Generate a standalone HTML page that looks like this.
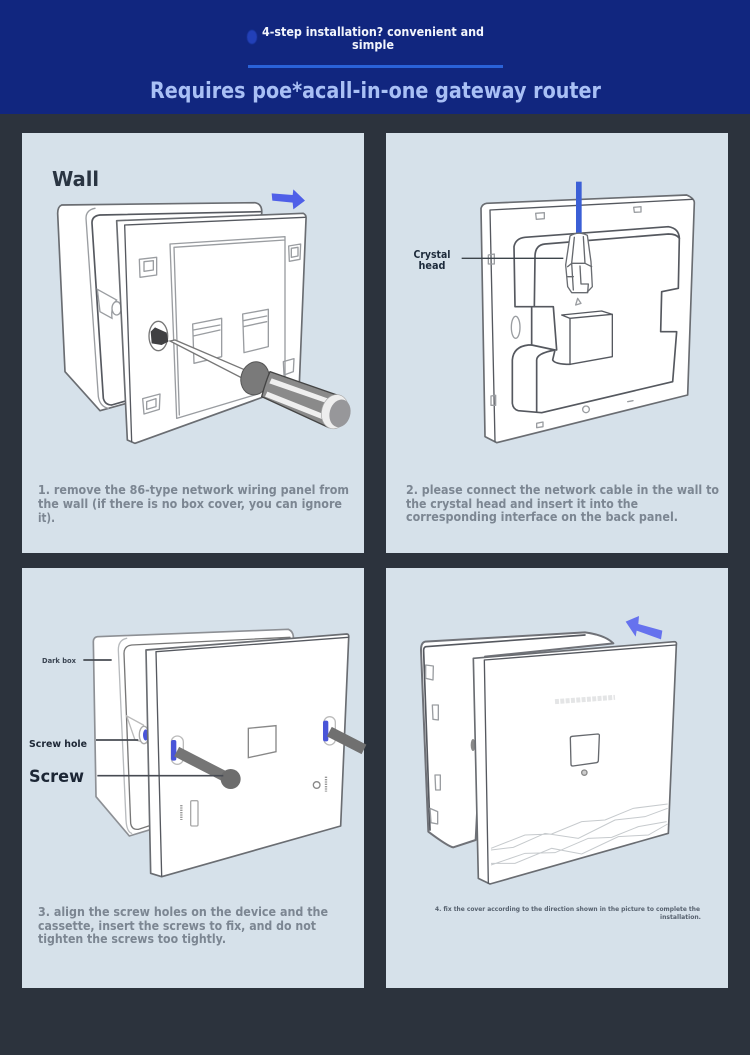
<!DOCTYPE html>
<html><head><meta charset="utf-8"><style>
html,body{margin:0;padding:0;background:#2c333d}
svg{display:block}
text{font-family:"DejaVu Sans","Liberation Sans",sans-serif;font-weight:bold}
.cap{fill:#7b8692;font-size:12px}
.l{fill:none;stroke:#55595f;stroke-width:5;stroke-linejoin:round;stroke-linecap:round}
.t{fill:none;stroke:#9a9da1;stroke-width:4;stroke-linejoin:round;stroke-linecap:round}
.w{fill:#fff;stroke:#6a6d72;stroke-width:5;stroke-linejoin:round}
.g{filter:url(#b)}
</style></head><body>
<svg width="750" height="1055" viewBox="0 0 750 1055" xmlns="http://www.w3.org/2000/svg">
<defs><filter id="b" x="-5%" y="-5%" width="110%" height="110%"><feGaussianBlur stdDeviation="0.5"/></filter>
<filter id="b2"><feGaussianBlur stdDeviation="0.25"/></filter></defs>
<rect width="750" height="1055" fill="#2c333d"/>
<rect width="750" height="114" fill="#11267f"/>
<rect x="248" y="65" width="255" height="3" fill="#2a62d8"/>
<ellipse cx="252" cy="37" rx="5" ry="7" fill="#2340b8" filter="url(#b)"/>
<g filter="url(#b2)">
<text x="262" y="36" font-size="12.5" fill="#f2f5fc" textLength="222" lengthAdjust="spacingAndGlyphs">4-step installation? convenient and</text>
<text x="352" y="49" font-size="12.5" fill="#f2f5fc" textLength="42" lengthAdjust="spacingAndGlyphs">simple</text>
<text x="150" y="98" font-size="22" fill="#a9c0f5" textLength="451" lengthAdjust="spacingAndGlyphs">Requires poe*acall-in-one gateway router</text>
</g>
<rect x="22" y="133" width="342" height="420" fill="#d6e1ea"/>
<rect x="386" y="133" width="342" height="420" fill="#d6e1ea"/>
<rect x="22" y="568" width="342" height="420" fill="#d6e1ea"/>
<rect x="386" y="568" width="342" height="420" fill="#d6e1ea"/>

<!-- Panel 1 -->
<g class="g" transform="translate(20,130) scale(.33333)">
<path class="w" d="M125,225 L705,218 Q728,222 725,252 L320,820 L240,842 L135,725 L113,250 Q113,230 125,225Z"/>
<path class="t" d="M225,235 Q198,240 198,265 L235,800 Q240,830 265,835"/>
<path class="l" d="M722,245 L240,255 Q215,258 216,280 L250,805 Q255,825 275,825 L320,812"/>
<path d="M232,478 L290,510 Q272,530 276,565 L240,545Z" fill="#fff" stroke="#9a9da1" stroke-width="4"/>
<ellipse cx="290" cy="535" rx="14" ry="20" fill="#fff" stroke="#9a9da1" stroke-width="4"/>
<path class="w" d="M290,272 L850,250 Q860,255 858,268 L838,762 L345,940 L322,930Z"/>
<path class="l" style="stroke-width:4" d="M314,285 L855,262 M314,285 L335,935"/>
<path class="t" d="M450,342 L795,320 L795,745 M450,342 L470,865 L720,790 M462,352 L795,330 M462,352 L478,855"/>
<path class="t" d="M518,582 L605,565 L605,680 L522,700Z M520,600 L600,585 M520,618 L600,600"/>
<path class="t" d="M668,552 L745,538 L745,650 L672,668Z M670,572 L740,558 M670,590 L740,575"/>
<path class="t" d="M358,388 L410,382 L410,435 L360,442Z M372,395 L400,392 L400,420 L372,424Z"/>
<path class="t" d="M806,348 L842,342 L840,388 L808,394Z M814,355 L834,352 L834,378 L814,382Z"/>
<path class="t" d="M368,806 L420,792 L418,838 L372,852Z M380,815 L408,806 L408,830 L380,838Z"/>
<path class="t" d="M790,695 L822,686 L820,725 L792,735Z"/>
<ellipse cx="415" cy="618" rx="28" ry="44" fill="#fff" stroke="#777" stroke-width="4"/>
<path d="M392,605 L405,592 L440,608 L445,635 L425,645 L395,640Z" fill="#3f3f42"/>
<path d="M450,633 L465,630 L680,722 L668,745Z" fill="#fff" stroke="#777" stroke-width="4"/>
<ellipse cx="705" cy="745" rx="42" ry="50" transform="rotate(15 705 745)" fill="#7a7a7a" stroke="#555" stroke-width="3"/>
<path d="M750,725 L965,800 L925,892 L725,800 Q735,760 750,725Z" fill="#8a8a8a" stroke="#444" stroke-width="4"/>
<path d="M755,745 L950,815 L945,828 L748,760Z" fill="#efefef"/>
<path d="M742,785 L930,860 L925,875 L735,800Z" fill="#efefef"/>
<ellipse cx="945" cy="845" rx="40" ry="52" transform="rotate(15 945 845)" fill="#eee" stroke="#aaa" stroke-width="2"/>
<ellipse cx="960" cy="850" rx="31" ry="42" transform="rotate(15 960 850)" fill="#97979a"/>
<path d="M755,190 L818,195 L820,178 L855,212 L820,238 L818,218 L757,212Z" fill="#4f5fe8"/>
</g>
<g filter="url(#b2)">
<text x="52" y="186" font-size="20" fill="#2a3442" textLength="47" lengthAdjust="spacingAndGlyphs">Wall</text>
<text class="cap" x="38" y="494" textLength="311" lengthAdjust="spacingAndGlyphs">1. remove the 86-type network wiring panel from</text>
<text class="cap" x="38" y="508" textLength="304" lengthAdjust="spacingAndGlyphs">the wall (if there is no box cover, you can ignore</text>
<text class="cap" x="38" y="522" textLength="17" lengthAdjust="spacingAndGlyphs">it).</text>
</g>

<!-- Panel 2 -->
<g class="g" transform="translate(385,130) scale(.33333)">
<path class="w" d="M288,235 Q292,222 305,220 L905,195 Q928,205 928,218 L908,795 L335,938 L300,920Z"/>
<path class="l" style="stroke-width:4" d="M315,240 L922,208 M315,240 L330,935"/>
<path class="l" d="M390,528 L387,350 Q392,325 420,322 L850,290 Q882,295 883,325 L880,475 L830,485 L827,605 L875,605 L863,755 L470,848 L400,842 Q384,838 382,820 L382,690 Q385,650 430,645 L440,645 L510,660 L503,690 Q510,703 555,703"/>
<path class="l" d="M883,325 Q875,312 850,312 L480,342 Q450,345 450,380 L448,530 L390,530 M440,530 L505,530 L515,660 M440,530 L440,645 M455,845 L455,690 Q455,670 510,660"/>
<path class="l" style="stroke-width:4" d="M530,555 L650,543 L682,553 L682,680 L555,703 L555,565Z M555,565 L682,553"/>
<path class="t" d="M452,250 L478,248 L478,266 L454,268Z M746,232 L768,230 L768,246 L748,247Z M310,375 L328,372 L328,402 L310,402Z M318,798 L332,796 L332,826 L318,826Z M455,880 L474,876 L474,890 L455,893Z M728,815 L744,812 M578,505 L588,520 L572,525Z"/>
<ellipse cx="392" cy="592" rx="13" ry="33" fill="none" stroke="#9a9da1" stroke-width="4"/>
<circle cx="603" cy="838" r="10" fill="none" stroke="#9a9da1" stroke-width="4"/>
<rect x="573" y="155" width="17" height="155" fill="#3a5fd6"/>
<path class="w" style="stroke-width:4" d="M555,318 Q580,302 607,316 L618,395 L622,470 L605,488 L560,488 L548,470 L542,405Z"/>
<path class="t" style="stroke:#66696e" d="M568,322 L560,400 L548,410 M595,320 L600,400 L620,410 M560,400 L600,400 M560,400 L565,480 M585,408 L588,462 L610,462 L608,488 M548,440 L565,440"/>
<path d="M230,385 L535,385" stroke="#3e444c" stroke-width="4" fill="none"/>
</g>
<g filter="url(#b2)">
<text x="432" y="258" font-size="10.5" fill="#1e2a3a" text-anchor="middle" textLength="37" lengthAdjust="spacingAndGlyphs">Crystal</text>
<text x="432" y="269" font-size="10.5" fill="#1e2a3a" text-anchor="middle" textLength="27" lengthAdjust="spacingAndGlyphs">head</text>
<text class="cap" x="406" y="494" textLength="313" lengthAdjust="spacingAndGlyphs">2. please connect the network cable in the wall to</text>
<text class="cap" x="406" y="508" textLength="232" lengthAdjust="spacingAndGlyphs">the crystal head and insert it into the</text>
<text class="cap" x="406" y="521" textLength="272" lengthAdjust="spacingAndGlyphs">corresponding interface on the back panel.</text>
</g>

<!-- Panel 3 -->
<g class="g" transform="translate(20,600) scale(.33333)">
<path class="w" style="stroke:#8d9095" d="M232,110 L805,88 Q822,95 820,118 L420,680 L328,708 L228,590 L220,125 Q220,112 232,110Z"/>
<path class="t" style="stroke:#b8bbbe" d="M320,115 Q295,120 295,150 L318,660 Q320,695 335,700"/>
<path class="l" style="stroke-width:4;stroke:#777" d="M810,112 L335,135 Q312,138 312,160 L332,670 Q335,690 355,688 L395,675"/>
<path d="M320,348 L370,375 L385,430 L345,420Z" fill="#fff" stroke="#bbb" stroke-width="4"/>
<ellipse cx="372" cy="405" rx="14" ry="26" fill="#fff" stroke="#aaa" stroke-width="4"/>
<ellipse cx="377" cy="405" rx="8" ry="17" fill="#4a55d8"/>
<path class="w" d="M378,150 L980,102 Q988,102 986,115 L962,678 L425,830 L392,820Z"/>
<path class="l" style="stroke-width:4" d="M408,155 L985,112 M408,155 L425,828"/>
<path d="M685,385 L768,377 L768,455 L685,473Z" fill="none" stroke="#888" stroke-width="4"/>
<rect x="454" y="408" width="36" height="85" rx="18" fill="#fff" stroke="#bbb" stroke-width="4"/>
<rect x="453" y="420" width="16" height="62" rx="6" fill="#4a55d8"/>
<path d="M470,455 L620,532" stroke="#757575" stroke-width="32" fill="none"/>
<circle cx="632" cy="537" r="30" fill="#6d6d6d"/>
<rect x="912" y="350" width="34" height="85" rx="17" fill="#fff" stroke="#bbb" stroke-width="4"/>
<rect x="909" y="362" width="16" height="62" rx="6" fill="#4a55d8"/>
<path d="M928,395 L1032,448" stroke="#6f6f6f" stroke-width="32" fill="none"/>
<circle cx="890" cy="555" r="10" fill="none" stroke="#888" stroke-width="4"/>
<path d="M918,530 L918,575" stroke="#999" stroke-width="7" stroke-dasharray="4 3" fill="none"/>
<rect x="512" y="602" width="22" height="76" rx="4" fill="none" stroke="#aaa" stroke-width="4"/>
<path d="M484,615 L484,660" stroke="#999" stroke-width="7" stroke-dasharray="4 3" fill="none"/>
<path d="M190,180 L275,180 M228,420 L355,420 M232,527 L610,527" stroke="#474c53" stroke-width="5" fill="none"/>
</g>
<g filter="url(#b2)">
<text x="42" y="663" font-size="7" fill="#3b4552" textLength="34" lengthAdjust="spacingAndGlyphs">Dark box</text>
<text x="29" y="747" font-size="9.5" fill="#1c2634" textLength="58" lengthAdjust="spacingAndGlyphs">Screw hole</text>
<text x="29" y="782" font-size="16.5" fill="#1c2634" textLength="55" lengthAdjust="spacingAndGlyphs">Screw</text>
<text class="cap" x="38" y="916" textLength="290" lengthAdjust="spacingAndGlyphs">3. align the screw holes on the device and the</text>
<text class="cap" x="38" y="930" textLength="278" lengthAdjust="spacingAndGlyphs">cassette, insert the screws to fix, and do not</text>
<text class="cap" x="38" y="943" textLength="188" lengthAdjust="spacingAndGlyphs">tighten the screws too tightly.</text>
</g>

<!-- Panel 4 -->
<g class="g" transform="translate(385,600) scale(.33333)">
<path class="w" style="stroke:#6f7278;stroke-width:6" d="M120,125 L600,97 Q660,105 685,130 L300,170 L272,720 L205,742 Q190,740 130,695 L108,150 Q108,128 120,125Z"/>
<path class="l" d="M122,140 L600,105 M122,140 Q115,142 116,155 L135,690"/>
<path class="t" d="M122,195 L145,198 L144,240 L122,235Z M142,315 L160,315 L160,360 L144,358Z M150,525 L166,525 L166,570 L152,570Z M135,625 L158,635 L158,672 L138,668Z"/>
<ellipse cx="264" cy="435" rx="7" ry="18" fill="#888"/>
<path class="w" d="M265,175 L868,125 Q876,125 874,135 L850,700 L315,852 L280,835Z"/>
<path class="l" style="stroke-width:4" d="M298,180 L872,135 M298,180 L310,850"/>
<path class="t" style="stroke:#66696e" d="M556,414 Q556,410 562,409 L638,402 Q644,402 643,408 L640,482 Q640,487 634,488 L564,498 Q558,498 558,493Z"/>
<circle cx="598" cy="518" r="8" fill="#ccc" stroke="#888" stroke-width="4"/>
<path d="M318,745 L420,705 L500,702 L590,665 L660,660 L745,625 L848,612 M318,750 L385,742 L480,700 L580,715 L690,660 L780,650 L848,625 M318,795 L420,760 L510,758 L610,715 L680,712 L760,680 L845,665 M318,790 L390,790 L500,745 L590,762 L700,710 L790,705 L848,672" fill="none" stroke="#c6cacd" stroke-width="3"/>
<path d="M510,305 L690,292" stroke="#e4e5e6" stroke-width="15" stroke-dasharray="12 4" fill="none"/>
<path d="M722,65 L762,48 L760,72 L832,92 L828,118 L755,92 L752,110Z" fill="#6672ee"/>
</g>
<g filter="url(#b2)">
<text x="435" y="911" font-size="6.5" fill="#56616e" textLength="265" lengthAdjust="spacingAndGlyphs">4. fix the cover according to the direction shown in the picture to complete the</text>
<text x="660" y="919" font-size="6.5" fill="#56616e" textLength="41" lengthAdjust="spacingAndGlyphs">installation.</text>
</g>
</svg>
</body></html>
